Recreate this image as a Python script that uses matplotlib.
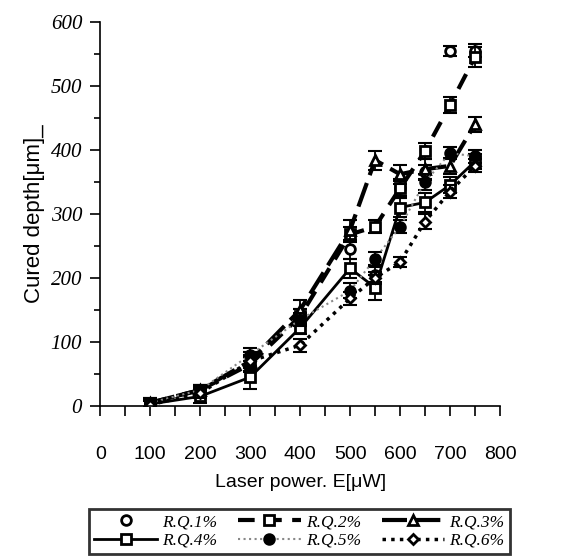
import matplotlib
matplotlib.use("Agg")
import matplotlib.pyplot as plt
from matplotlib.lines import Line2D
from matplotlib.ticker import MultipleLocator

# potencia laser (uW)
potencia = [100, 200, 300, 400, 500, 550, 600, 650, 700, 750]

# profundidad curada (um) para cada concentracion
rq1 = [3, 22, 72, 140, 245, 205, 340, 365, 555, 555]
rq2 = [5, 25, 65, 140, 268, 280, 340, 398, 470, 545]
rq3 = [5, 25, 70, 150, 275, 384, 362, 370, 375, 440]
rq4 = [3, 15, 45, 122, 215, 185, 310, 318, 345, 382]
rq5 = [5, 25, 80, 135, 180, 230, 280, 350, 395, 390]
rq6 = [2, 20, 70, 95, 168, 200, 225, 288, 335, 375]

# barras de error
err1 = [8, 8, 12, 12, 15, 12, 12, 12, 8, 10]
err2 = [8, 8, 12, 12, 12, 10, 15, 12, 12, 15]
err3 = [8, 8, 15, 15, 15, 15, 15, 15, 12, 12]
err4 = [8, 10, 18, 10, 15, 20, 15, 15, 12, 12]
err5 = [6, 8, 10, 10, 12, 10, 10, 12, 10, 10]
err6 = [6, 8, 10, 10, 10, 10, 8, 12, 10, 10]

etiquetas = ["R.Q.1%", "R.Q.2%", "R.Q.3%", "R.Q.4%", "R.Q.5%", "R.Q.6%"]

# estilos: (marcador, linea, grosor, color linea, relleno, tamano)
estilos = [
    ("o", "none", 0, "black", "white", 7),
    ("s", (0, (4, 2.5)), 3, "black", "white", 7),
    ("^", (0, (6, 2)), 3, "black", "white", 7),
    ("s", "-", 2, "black", "white", 7),
    ("o", ":", 1.5, "#888888", "black", 7),
    ("D", (0, (1, 1.5)), 2.5, "black", "white", 5),
]
series = [rq1, rq2, rq3, rq4, rq5, rq6]
errores = [err1, err2, err3, err4, err5, err6]

fig = plt.figure(figsize=(5.76, 5.6), dpi=100)
ax = fig.add_axes([0.174, 0.275, 0.694, 0.686])

proxies = []
for y, e, (m, ls, lw, lc, fc, ms) in zip(series, errores, estilos):
    ax.errorbar(potencia, y, yerr=e, fmt="none", ecolor="black", capsize=5,
                elinewidth=1.3, capthick=1.5)
    if ls != "none":
        ax.plot(potencia, y, linestyle=ls, linewidth=lw, color=lc)
    ax.plot(potencia, y, linestyle="none", marker=m, markersize=ms,
            markerfacecolor=fc, markeredgecolor="black", markeredgewidth=2)
    proxies.append(Line2D([], [], linestyle=ls, linewidth=lw, color=lc, marker=m,
                          markersize=ms, markerfacecolor=fc, markeredgecolor="black",
                          markeredgewidth=2))

ax.set_xlim(0, 800)
ax.set_ylim(0, 600)
ax.xaxis.set_major_locator(MultipleLocator(100))
ax.xaxis.set_minor_locator(MultipleLocator(50))
ax.yaxis.set_major_locator(MultipleLocator(100))
ax.yaxis.set_minor_locator(MultipleLocator(50))
ax.spines["top"].set_visible(False)
ax.spines["right"].set_visible(False)
ax.spines["left"].set_linewidth(1.2)
ax.spines["bottom"].set_linewidth(1.2)
ax.tick_params(axis="x", which="both", direction="out", length=7, width=1.2, pad=22,
               labelsize=14)
ax.tick_params(axis="y", which="major", direction="out", length=7, width=1.2, pad=6,
               labelsize=15)
ax.tick_params(axis="y", which="minor", direction="out", length=4, width=1.2)
for t in ax.get_xticklabels():
    t.set_fontfamily("Liberation Sans")
for t in ax.get_yticklabels():
    t.set_fontfamily("Liberation Serif")
    t.set_fontstyle("italic")

ax.set_xlabel("Laser power. E[\u03bcW]", fontsize=14, family="Liberation Sans", labelpad=8)
ax.set_ylabel("Cured depth[\u03bcm]_", fontsize=16, family="Liberation Sans", labelpad=4)

orden = [0, 3, 1, 4, 2, 5]
leg = fig.legend([proxies[i] for i in orden], [etiquetas[i] for i in orden], ncol=3,
                 loc="lower center", bbox_to_anchor=(0.52, -0.005),
                 frameon=True, fancybox=False, edgecolor="black", handlelength=3.6,
                 columnspacing=1.2, handletextpad=0.3, borderpad=0.3, labelspacing=0.15,
                 prop={"family": "Liberation Serif", "style": "italic", "size": 12.5})
leg.get_frame().set_linewidth(2)

fig.savefig("out.png", dpi=100)
